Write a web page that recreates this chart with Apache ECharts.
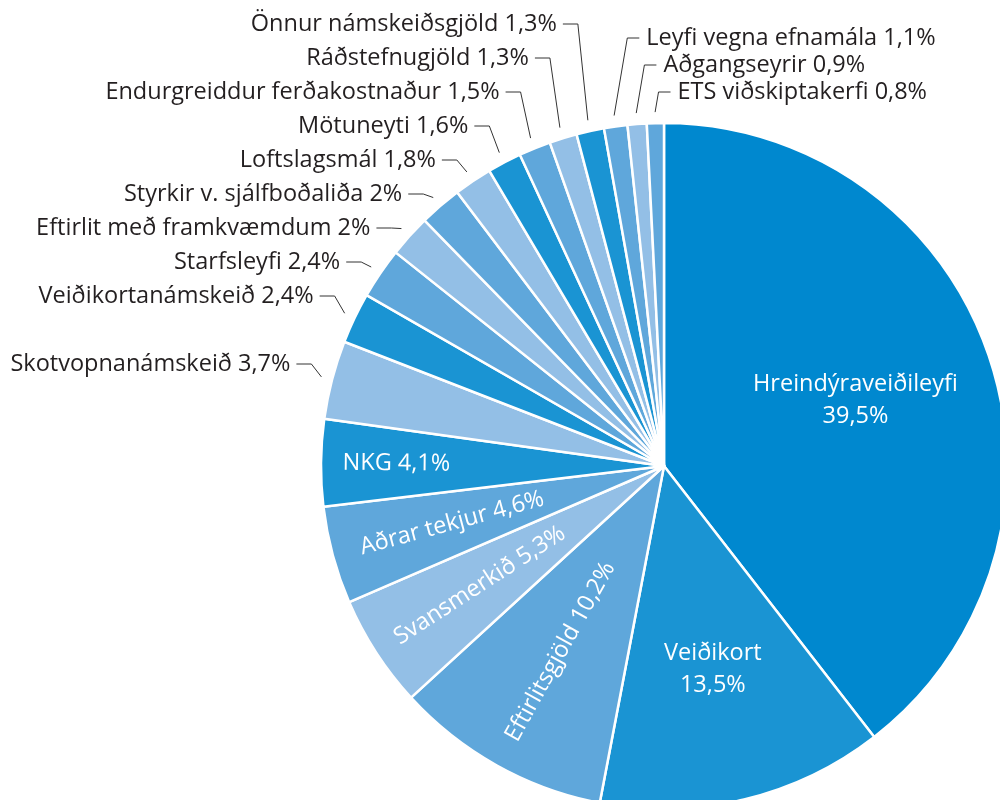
<!DOCTYPE html>
<html><head><meta charset="utf-8">
<script src="https://cdn.jsdelivr.net/npm/echarts@6/dist/echarts.min.js"></script>
<style>html,body{margin:0;padding:0;background:#fff}#c{width:1000px;height:800px}</style>
</head><body><div id="c"></div>
<script>
const categories = ['Hreindýraveiðileyfi','Veiðikort','Eftirlitsgjöld','Svansmerkið','Aðrar tekjur','NKG','Skotvopnanámskeið','Veiðikortanámskeið','Starfsleyfi','Eftirlit með framkvæmdum','Styrkir v. sjálfboðaliða','Loftslagsmál','Mötuneyti','Endurgreiddur ferðakostnaður','Ráðstefnugjöld','Önnur námskeiðsgjöld','Leyfi vegna efnamála','Aðgangseyrir','ETS viðskiptakerfi'];
const values = [39.5,13.5,10.2,5.3,4.6,4.1,3.7,2.4,2.4,2,2,1.8,1.6,1.5,1.3,1.3,1.1,0.9,0.8];

const D='#1a94d3', M='#5fa7db', L='#93bfe6';
const sliceColors = ['#0088cf', D, M, L, M, D, L, D, M, L, M, L, D, M, L, D, M, L, M];
const FONT = 'Open Sans';
const FS = 23.5;
const CX = 664, CY = 466, R = 343;
const insideTwoLine = [0, 1];
const insideRadial = [2, 3, 4, 5];
const insideRadiusFrac = {0: 0.59, 1: 0.61, 2: 0.62, 3: 0.64, 4: 0.64, 5: 0.78};
// label rows (layout only): left-side labels stacked in rows, right-side labels in rows
const leftRow = {15: 0, 14: 1, 13: 2, 12: 3, 11: 4, 10: 5, 9: 6, 8: 7, 7: 8, 6: 10};
const rightRow = {16: 0, 17: 1, 18: 2};
const LEFT_TOP = 24, LEFT_STEP = 34, RIGHT_TOP = 38, RIGHT_STEP = 27;
const lineGap = 11;

const fmt = v => String(v).replace('.', ',');
const total = values.reduce((a, b) => a + b, 0);
function midAngle(i) {
  let cum = 0;
  for (let k = 0; k < i; k++) cum += values[k];
  return (cum + values[i] / 2) / total * 2 * Math.PI;
}

function mainData() {
  return categories.map((name, i) => {
    const item = { name, value: values[i], itemStyle: { color: sliceColors[i] } };
    if (insideTwoLine.includes(i)) {
      item.label = { position: 'inside', color: '#fff', formatter: p => p.name + '\n' + fmt(p.value) + '%', lineHeight: 32 };
      item.labelLine = { show: false };
    } else if (insideRadial.includes(i)) {
      item.label = { position: 'inside', rotate: 'radial', color: '#fff', lineHeight: 26 };
      item.labelLine = { show: false };
    }
    return item;
  });
}

const chart = echarts.init(document.getElementById('c'), null, { renderer: 'canvas' });
chart.setOption({
  animation: false,
  series: [{
    type: 'pie', center: [CX, CY], radius: R, startAngle: 90, clockwise: true,
    avoidLabelOverlap: false,
    itemStyle: { borderColor: '#fff', borderWidth: 2.5 },
    label: {
      show: true, position: 'outside', fontFamily: FONT, fontSize: FS, color: '#231f20', lineHeight: 30,
      formatter: p => p.name + ' ' + fmt(p.value) + '%'
    },
    labelLine: { show: true, length: 30, length2: 16, lineStyle: { color: '#333', width: 1 } },
    data: mainData(),
    labelLayout: function (p) {
      const i = p.dataIndex;
      const a = midAngle(i);
      const f = insideRadiusFrac[i];
      if (f !== undefined) {
        return { x: CX + f * R * Math.sin(a), y: CY - f * R * Math.cos(a) };
      }
      const p0 = [CX + (R + lineGap) * Math.sin(a), CY - (R + lineGap) * Math.cos(a)];
      if (leftRow[i] !== undefined) {
        const y = LEFT_TOP + LEFT_STEP * leftRow[i];
        const p1 = [p0[0] - 10, y];
        const p2 = [p1[0] - 15, y];
        return { x: p2[0] - 6, y: y, align: 'right', verticalAlign: 'middle', labelLinePoints: [p0, p1, p2] };
      }
      if (rightRow[i] !== undefined) {
        const y = RIGHT_TOP + RIGHT_STEP * rightRow[i];
        const p1 = [p0[0] + (p0[1] - y) * 0.17, y];
        const p2 = [p1[0] + 12, y];
        return { x: p2[0] + 7, y: y, align: 'left', verticalAlign: 'middle', labelLinePoints: [p0, p1, p2] };
      }
      return {};
    }
  }]
});
</script></body></html>
